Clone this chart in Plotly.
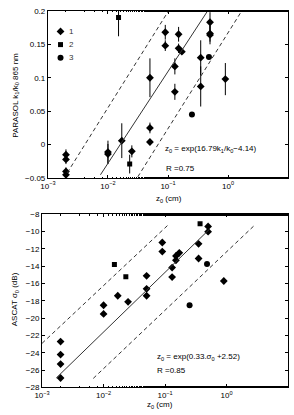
import plotly.graph_objects as go

W, H = 294, 415

# ---------------- data: top panel (PARASOL k1/k0) ----------------
top_g1_x = [0.002, 0.002, 0.002, 0.002, 0.01, 0.01, 0.017, 0.025, 0.05, 0.05, 0.05,
            0.09, 0.09, 0.13, 0.13, 0.15, 0.15, 0.17, 0.35, 0.35, 0.5, 0.5, 0.5, 0.9]
top_g1_y = [-0.015, -0.022, -0.040, -0.045, -0.011, -0.014, 0.006, -0.010, 0.100, 0.025, 0.004,
            0.168, 0.148, 0.117, 0.079, 0.165, 0.144, 0.139, 0.130, 0.087, 0.183, 0.166, 0.164, 0.098]
top_g1_err = [0.008, 0.007, 0.006, 0.005, 0.017, 0.015, 0.026, 0.009, 0.029, 0.008, 0.004,
              0.011, 0.008, 0.012, 0.012, 0.011, 0.007, 0.003, 0.026, 0.030, 0.015, 0.012, 0.014, 0.024]
top_g2_x = [0.015, 0.023]
top_g2_y = [0.190, -0.029]
top_g2_err = [0.028, 0.014]
top_g3_x = [0.25, 0.48]
top_g3_y = [0.045, 0.131]

top_fit_x = [0.0075, 0.457]
top_fit_y = [-0.045, 0.2]
top_lo_x = [0.0021, 0.102]
top_lo_y = [-0.042, 0.2]
top_hi_x = [0.0314, 1.69]
top_hi_y = [-0.048, 0.2]

# ---------------- data: bottom panel (ASCAT sigma0) ----------------
bot_g1_x = [0.002, 0.002, 0.002, 0.002, 0.01, 0.01, 0.017, 0.025, 0.05, 0.05, 0.05,
            0.09, 0.09, 0.13, 0.13, 0.15, 0.15, 0.17, 0.35, 0.35, 0.5, 0.5, 0.9]
bot_g1_y = [-22.7, -24.2, -25.3, -26.9, -18.5, -19.5, -17.4, -18.1, -15.1, -16.6, -17.4,
            -11.25, -12.3, -14.15, -15.25, -12.8, -13.3, -12.45, -11.4, -13.1, -9.4, -10.0, -15.7]
bot_g2_x = [0.015, 0.023, 0.37]
bot_g2_y = [-13.8, -15.2, -9.1]
bot_g3_x = [0.25, 0.48]
bot_g3_y = [-18.5, -13.75]

bot_fit_x = [0.0017, 0.53]
bot_fit_y = [-26.9, -9.7]
bot_lo_x = [0.001, 0.117]
bot_lo_y = [-22.9, -9.1]
bot_hi_x = [0.0068, 2.9]
bot_hi_y = [-26.95, -9.2]

group_names = ["1", "2", "3"]
group_symbols = ["diamond", "square", "circle"]
group_sizes = [6, 5, 6]
x_tickvals = [0.001, 0.01, 0.1, 1, 10]
x_ticktext = ["10<sup>−3</sup>", "10<sup>−2</sup>", "10<sup>−1</sup>", "10<sup>0</sup>", "10<sup>1</sup>"]
top_yticks = [-0.05, 0, 0.05, 0.1, 0.15, 0.2]
top_ytext = ["−0.05", "0", "0.05", "0.1", "0.15", "0.2"]
bot_yticks = list(range(-28, -7, 2))
bot_ytext = [("−" + str(-v)) for v in bot_yticks]

FONT = "Liberation Sans, Arial, sans-serif"
BLK = "black"

fig = go.Figure()

def err(a):
    return dict(type="data", array=a, visible=True, color=BLK, thickness=1, width=0)

def mk(i):
    return dict(symbol=group_symbols[i], size=group_sizes[i], color=BLK)

# top
fig.add_trace(go.Scatter(x=top_g1_x, y=top_g1_y, mode="markers", marker=mk(0),
                         error_y=err(top_g1_err), xaxis="x", yaxis="y"))
fig.add_trace(go.Scatter(x=top_g2_x, y=top_g2_y, mode="markers", marker=mk(1),
                         error_y=err(top_g2_err), xaxis="x", yaxis="y"))
fig.add_trace(go.Scatter(x=top_g3_x, y=top_g3_y, mode="markers", marker=mk(2),
                         xaxis="x", yaxis="y"))
fig.add_trace(go.Scatter(x=top_fit_x, y=top_fit_y, mode="lines",
                         line=dict(color="#333", width=1), xaxis="x", yaxis="y"))
for xs, ys in [(top_lo_x, top_lo_y), (top_hi_x, top_hi_y)]:
    fig.add_trace(go.Scatter(x=xs, y=ys, mode="lines",
                             line=dict(color="#333", width=1, dash="4px,3px"), xaxis="x", yaxis="y"))

# bottom
fig.add_trace(go.Scatter(x=bot_g1_x, y=bot_g1_y, mode="markers", marker=mk(0), xaxis="x2", yaxis="y2"))
fig.add_trace(go.Scatter(x=bot_g2_x, y=bot_g2_y, mode="markers", marker=mk(1), xaxis="x2", yaxis="y2"))
fig.add_trace(go.Scatter(x=bot_g3_x, y=bot_g3_y, mode="markers", marker=mk(2), xaxis="x2", yaxis="y2"))
fig.add_trace(go.Scatter(x=bot_fit_x, y=bot_fit_y, mode="lines",
                         line=dict(color="#333", width=1), xaxis="x2", yaxis="y2"))
for xs, ys in [(bot_lo_x, bot_lo_y), (bot_hi_x, bot_hi_y)]:
    fig.add_trace(go.Scatter(x=xs, y=ys, mode="lines",
                             line=dict(color="#333", width=1, dash="4px,3px"), xaxis="x2", yaxis="y2"))

# compact legend (MATLAB-style) drawn on a pixel-space overlay axis
LEG_X, LEG_Y0, LEG_DY = 54, 28, 13.5
for i, name in enumerate(group_names):
    fig.add_trace(go.Scatter(x=[LEG_X], y=[LEG_Y0 + i * LEG_DY], mode="markers", marker=mk(i),
                             xaxis="x3", yaxis="y3", hoverinfo="skip"))
    fig.add_annotation(xref="x3", yref="y3", x=LEG_X + 7, y=LEG_Y0 + i * LEG_DY, text=name,
                       xanchor="left", yanchor="middle", showarrow=False,
                       font=dict(family=FONT, size=8, color="#333"))

def px_x(p):
    return p / W

def px_y(p):
    return 1 - p / H

common_axis = dict(showline=True, linecolor=BLK, linewidth=1, mirror="ticks", ticks="inside",
                   ticklen=3, tickcolor=BLK, showgrid=False, zeroline=False,
                   tickfont=dict(family=FONT, size=8, color=BLK))

xlog = dict(common_axis, type="log", range=[-3, 1], tickmode="array", tickvals=x_tickvals,
            ticktext=x_ticktext,
            minor=dict(ticks="inside", ticklen=1.5, tickcolor=BLK, showgrid=False))

fig.update_layout(
    width=W, height=H, margin=dict(l=0, r=0, t=0, b=0),
    paper_bgcolor="white", plot_bgcolor="rgba(0,0,0,0)",
    font=dict(family=FONT, size=8, color=BLK),
    showlegend=False,
    xaxis=dict(xlog, domain=[px_x(41), px_x(288)], anchor="y"),
    yaxis=dict(common_axis, range=[-0.05, 0.2], tickmode="array", tickvals=top_yticks,
               ticktext=top_ytext, domain=[px_y(178), px_y(7)], anchor="x"),
    xaxis2=dict(xlog, domain=[px_x(35), px_x(288)], anchor="y2"),
    yaxis2=dict(common_axis, range=[-28, -8], tickmode="array", tickvals=bot_yticks,
                ticktext=bot_ytext, domain=[px_y(392), px_y(215)], anchor="x2"),
    xaxis3=dict(domain=[0, 1], range=[0, W], visible=False, anchor="y3", fixedrange=True),
    yaxis3=dict(domain=[0, 1], range=[H, 0], visible=False, anchor="x3", fixedrange=True),
)

ann = [
    dict(text="z<sub>0</sub> = exp(16.79k<sub>1</sub>/k<sub>0</sub>−4.14)", x=px_x(159), y=px_y(148)),
    dict(text="R =0.75", x=px_x(160), y=px_y(168)),
    dict(text="z<sub>0</sub> = exp(0.33.σ<sub>0</sub> +2.52)", x=px_x(151), y=px_y(361)),
    dict(text="R =0.85", x=px_x(151), y=px_y(375)),
]
for a in ann:
    fig.add_annotation(xref="paper", yref="paper", xanchor="left", yanchor="middle",
                       showarrow=False, font=dict(family=FONT, size=8, color=BLK), **a)

titles = [
    dict(text="z<sub>0</sub> (cm)", x=px_x(165), y=px_y(199), textangle=0),
    dict(text="z<sub>0</sub> (cm)", x=px_x(156), y=px_y(410), textangle=0),
    dict(text="PARASOL k<sub>1</sub>/k<sub>0</sub> 865 nm", x=px_x(8), y=px_y(93), textangle=-90),
    dict(text="ASCAT σ<sub>0</sub> (dB)", x=px_x(8), y=px_y(302), textangle=-90),
]
for t in titles:
    fig.add_annotation(xref="paper", yref="paper", xanchor="center", yanchor="middle",
                       showarrow=False, font=dict(family=FONT, size=8, color=BLK), **t)

fig.write_html("out.html")
